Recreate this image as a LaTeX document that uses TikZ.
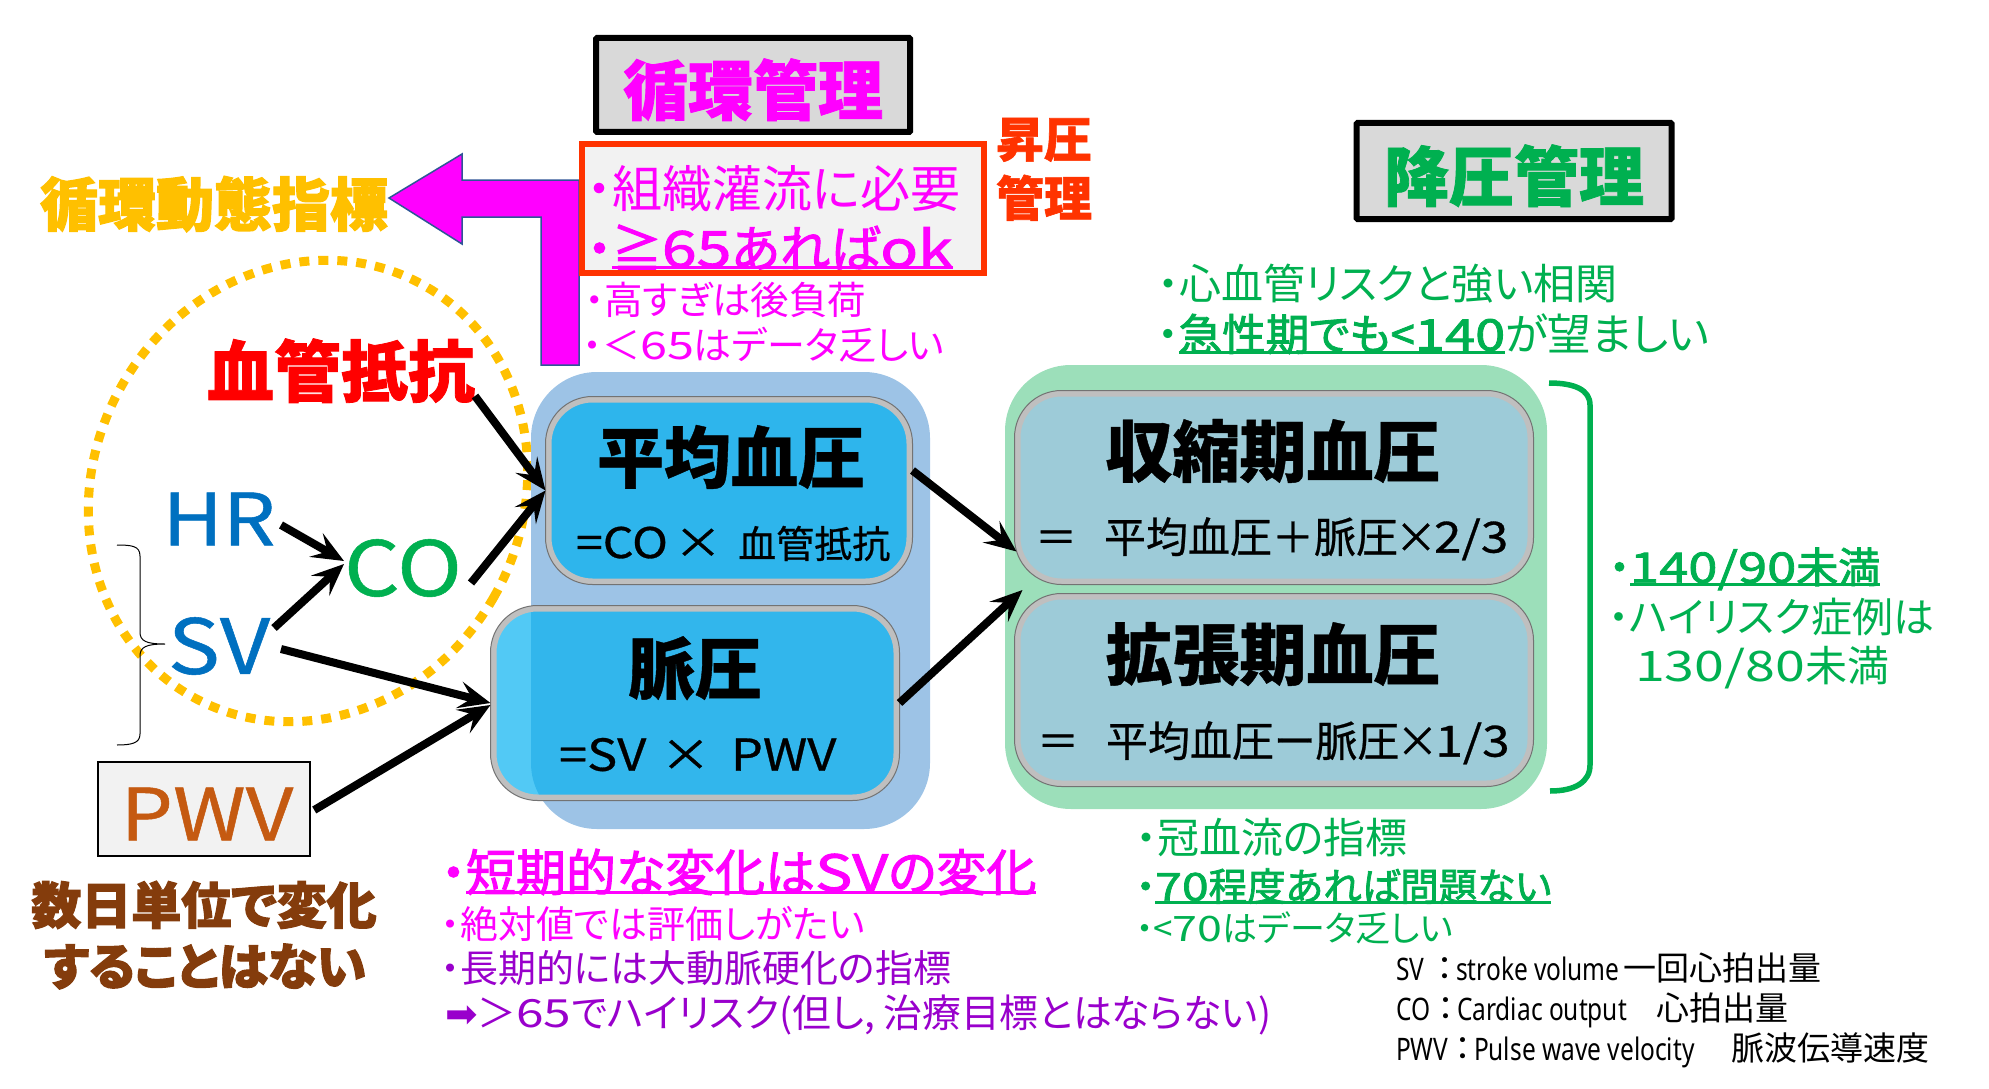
\documentclass[tikz,border=0pt]{standalone}
\usepackage{fontspec}
\usetikzlibrary{arrows.meta}
\setmainfont{Noto Sans CJK JP}
\newfontfamily\jp[RawFeature=+palt]{Noto Sans CJK JP}
\newfontfamily\jpm[RawFeature=+palt,FakeBold=0.6]{Noto Sans CJK JP}
\newfontfamily\jpq[RawFeature=+palt,FakeBold=2]{Noto Sans CJK JP}
\newfontfamily\jph[RawFeature=+palt,BoldFeatures={FakeBold=2.2}]{Noto Sans CJK JP}
\newfontfamily\jpt[RawFeature=+palt,BoldFeatures={FakeBold=1.2}]{Noto Sans CJK JP}
\newfontfamily\jpk[RawFeature=+palt,BoldFeatures={FakeBold=0.6}]{Noto Sans CJK JP}
\newfontfamily\dgf[FakeStretch=1.28]{Noto Sans CJK JP}
\newfontfamily\dgm[FakeStretch=1.15,FakeBold=0.7]{Noto Sans CJK JP}
\newfontfamily\dgq[FakeStretch=1.25,FakeBold=2]{Noto Sans CJK JP}
\newfontfamily\lat[FakeStretch=0.79]{Noto Sans}
\newfontfamily\djv{DejaVu Sans}
\newcommand\dg[1]{{\dgf #1}}
\newcommand\dgb[1]{{\dgq #1}}
\definecolor{mag}{HTML}{FF00FF}
\definecolor{grn}{HTML}{00B050}
\definecolor{org}{HTML}{FFC000}
\definecolor{rdo}{HTML}{FF3300}
\definecolor{brn}{HTML}{843C0C}
\definecolor{pur}{HTML}{9900CC}
\definecolor{blu}{HTML}{0070C0}
\definecolor{pwvc}{HTML}{C55A11}
\definecolor{panelblue}{HTML}{9DC3E6}
\definecolor{panelgreen}{HTML}{9CDFBA}
\definecolor{boxblue}{HTML}{2EB5EC}
\definecolor{boxcyan}{HTML}{00B0F0}
\definecolor{boxteal}{HTML}{9DCBD8}
\definecolor{arrowedge}{HTML}{2F5597}
\newcommand\strutx{\rule[-.12em]{0pt}{1em}}
\newcommand\myul[2][4pt]{\leavevmode\setbox0=\hbox{#2}\rlap{\raisebox{-#1}{\rule{\wd0}{3pt}}}\box0}
\newcommand\colbox[2]{\makebox[#1][l]{{\lat\fontsize{31pt}{31pt}\selectfont #2}\hfill：\hspace{3pt}}}
\tikzset{
 x=1pt,y=-1pt,
 tx/.style={inner sep=0pt,outer sep=0pt,anchor=west,execute at begin node=\strutx},
 tc/.style={inner sep=0pt,outer sep=0pt,anchor=center,execute at begin node=\strutx},
 r/.style={font=\jp\fontsize{#1pt}{#1pt}\selectfont},
 q/.style={font=\jpq\fontsize{#1pt}{#1pt}\selectfont},
 h/.style={font=\jph\bfseries\fontsize{#1pt}{#1pt}\selectfont},
 t/.style={font=\jpt\bfseries\fontsize{#1pt}{#1pt}\selectfont},
 k/.style={font=\jpk\bfseries\fontsize{#1pt}{#1pt}\selectfont},
 big/.style={font=\dgm\fontsize{#1pt}{#1pt}\selectfont},
 titlebox/.style={draw=black,line width=6pt,fill=black!15,rounded corners=1pt,inner sep=0pt},
 panel/.style={rounded corners=66pt,inner sep=0pt},
 valbox/.style={draw=black!25,line width=6pt,rounded corners=44pt,inner sep=0pt},
 valedge/.style={draw=black!55,line width=1pt,rounded corners=47pt,inner sep=0pt},
 link/.style={draw=black,line width=8pt,-{Stealth[length=32pt,width=27pt,inset=13pt]}},
}
\begin{document}
\begin{tikzpicture}
\useasboundingbox (0,0) rectangle (1989,1089);
% dashed ring
\draw[org,line width=9pt,dash pattern=on 10pt off 9pt] (308,491) ellipse [x radius=214pt,y radius=236pt,rotate=-30];
% panels
\node[panel,fill=panelblue,minimum width=399pt,minimum height=457pt] (bluepanel) at (730.5,600.5) {};
\node[panel,fill=panelgreen,minimum width=542pt,minimum height=444pt] (greenpanel) at (1276,587) {};
% value boxes
\node[valbox,fill=boxblue,minimum width=361pt,minimum height=182pt] (mbp) at (729,490.5) {};
\node[valedge,minimum width=367pt,minimum height=188pt] (mbpedge) at (729,490.5) {};
\node[valbox,fill=boxcyan,fill opacity=.68,draw opacity=1,minimum width=403pt,minimum height=189pt] (pp) at (695,703) {};
\node[valedge,minimum width=409pt,minimum height=195pt] (ppedge) at (695,703) {};
\node[valbox,fill=boxteal,minimum width=513pt,minimum height=188pt] (sbp) at (1274,487.5) {};
\node[valedge,minimum width=519pt,minimum height=194pt] (sbpedge) at (1274,487.5) {};
\node[valbox,fill=boxteal,minimum width=513pt,minimum height=187pt] (dbp) at (1274,690) {};
\node[valedge,minimum width=519pt,minimum height=193pt] (dbpedge) at (1274,690) {};
% title boxes
\node[titlebox,minimum width=314pt,minimum height=94pt] (tleft) at (753,85) {};
\node[tc,t=65,text=mag] (tleftt) at (753,90) {循環管理};
\node[titlebox,minimum width=315pt,minimum height=96pt] (tright) at (1514,171) {};
\node[tc,t=65,text=grn] (trightt) at (1514,176) {降圧管理};
% magenta arrow
\draw[fill=mag,draw=arrowedge,line width=1.5pt] (389,198)--(462,154)--(462,180)--(579,180)--(579,365)--(541,365)--(541,217)--(462,217)--(462,244)--cycle;
% red box
\node[draw=rdo,line width=6pt,fill=black!5,minimum width=402pt,minimum height=129pt,inner sep=0pt] (redbox) at (783,208.5) {};
\node[tx,r=50,text=mag] (a1) at (587,188) {・組織灌流に必要};
\node[tx,q=50,text=mag] (a2) at (587,248) {・\myul[2pt]{≧\dgb{65}あれば\dgb{ok}}};
\node[tx,r=38.5,text=mag] (a3) at (585,300) {・高すぎは後負荷};
\node[tx,r=38,text=mag] (a4) at (583,345) {・＜\dg{65}はデータ乏しい};
\node[tc,t=48,text=rdo] (b1) at (1044,139) {昇圧};
\node[tc,t=48,text=rdo] (b2) at (1044,198) {管理};
\node[tc,h=58,text=org] (idx) at (214,204) {循環動態指標};
% left labels
\node[tc,t=67,text=red] (res) at (341,371) {血管抵抗};
\node[tc,big=72,text=blu] (hr) at (219,518) {HR};
\node[tc,big=76,text=grn] (co) at (403,567) {CO};
\node[tc,big=76,text=blu] (sv) at (219,645) {SV};
\draw[black,line width=1pt] (117,545) .. controls (132,545) and (140,546) .. (140,556) -- (140,632) .. controls (140,641) and (146,644) .. (165,644) .. controls (146,644) and (140,647) .. (140,656) -- (140,734) .. controls (140,743) and (132,745) .. (117,745);
\node[draw=black,line width=2.5pt,fill=black!5,minimum width=212pt,minimum height=94pt,inner sep=0pt] (pwvbox) at (204,809) {};
\node[tc,big=72,text=pwvc] (pwv) at (207,813) {PWV};
\node[tc,h=50,text=brn] (n1) at (204,905) {数日単位で変化};
\node[tc,h=50,text=brn] (n2) at (205,966) {することはない};
% box text
\node[tc,k=67] (m1) at (731,457) {平均血圧};
\node[tx,big=42] (m2) at (576,542) {=CO\hspace{6pt}×\hspace{16pt}{\jpm\fontsize{38pt}{38pt}\selectfont 血管抵抗}};
\node[tc,k=67] (p1) at (695,668) {脈圧};
\node[tx,big=44] (p2) at (559,754) {=SV\hspace{14pt}×\hspace{20pt}PWV};
\node[tc,k=67] (s1) at (1273,451) {収縮期血圧};
\node[tx,font=\jpm\fontsize{42pt}{42pt}\selectfont] (s2) at (1035,538) {＝\hspace{27pt}平均血圧＋脈圧\kern-3pt×\kern-3pt{\dgm\fontsize{43pt}{43pt}\selectfont 2/3}};
\node[tc,k=67] (d1) at (1273,654) {拡張期血圧};
\node[tx,font=\jpm\fontsize{42pt}{42pt}\selectfont] (d2) at (1037,742) {＝\hspace{27pt}平均血圧ー脈圧\kern-3pt×\kern-3pt{\dgm\fontsize{43pt}{43pt}\selectfont 1/3}};
% green notes
\node[tx,r=42,text=grn] (g1) at (1158,284) {・心血管リスクと強い相関};
\node[tx,r=43.5,text=grn] (g2) at (1157,334) {・\myul[3pt]{\jpq 急性期でも<\dgb{140}}が望ましい};
\node[tx,q=42,text=grn] (g3) at (1609,568) {・\myul[3pt]{\dgb{140/90}未満}};
\node[tx,r=41,text=grn] (g4) at (1609,617) {・ハイリスク症例は};
\node[tx,r=42,text=grn] (g5) at (1635,667) {\dg{130/80}未満};
\node[tx,r=42,text=grn] (g6) at (1136,838) {・冠血流の指標};
\node[tx,q=38.5,text=grn] (g7) at (1136,886) {・\myul[3pt]{\dgb{70}程度あれば問題ない}};
\node[tx,r=35,text=grn] (g8) at (1136,928) {・<\dg{70}はデータ乏しい};
% lower notes
\node[tx,q=50,text=mag] (l1) at (441,872) {・\myul[3pt]{短期的な変化は\dgb{SV}の変化}};
\node[tx,r=38,text=mag] (l2) at (441,924) {・絶対値では評価しがたい};
\node[tx,r=38,text=pur] (l3) at (441,968) {・長期的には大動脈硬化の指標};
\node[tx,r=38.8,text=pur] (l4) at (445,1014) {{\djv ➡}＞\dg{65}でハイリスク(但し, 治療目標とはならない)};
% legend
\node[tx,r=33] (k1) at (1396,968) {\colbox{60pt}{SV}\makebox[167pt][l]{\lat\fontsize{31pt}{31pt}\selectfont stroke volume}一回心拍出量};
\node[tx,r=33] (k2) at (1396,1010) {\colbox{61pt}{CO}\makebox[199pt][l]{\lat\fontsize{31pt}{31pt}\selectfont Cardiac output}心拍出量};
\node[tx,r=33] (k3) at (1396,1050) {\colbox{78pt}{PWV}\makebox[257pt][l]{\lat\fontsize{31pt}{31pt}\selectfont Pulse wave velocity}脈波伝導速度};
% connectors
\draw[link] ([shift={(134,25)}]res.center) -- (mbp.west);
\draw[link] ([shift={(68,16)}]co.center) -- (mbp.west);
\draw[link] ([shift={(62,7)}]hr.center) -- ([shift={(-59,-6)}]co.center);
\draw[link] ([shift={(55,-17)}]sv.center) -- ([shift={(-59,-3)}]co.center);
\draw[link] ([shift={(62,4)}]sv.center) -- (pp.west);
\draw[link] ([shift={(3,1)}]pwvbox.east) -- ([shift={(0,2)}]pp.west);
\draw[link] ([shift={(0,-20)}]mbp.east) -- ([shift={(2,64)}]sbp.west);
\draw[link] (pp.east) -- ([shift={(8,-100)}]dbp.west);
% green bracket
\draw[grn,line width=5.5pt] (1549,383) .. controls (1575,383) and (1590,390) .. (1590,405) -- (1590,765) .. controls (1590,782) and (1575,791) .. (1550,791);
\end{tikzpicture}
\end{document}
